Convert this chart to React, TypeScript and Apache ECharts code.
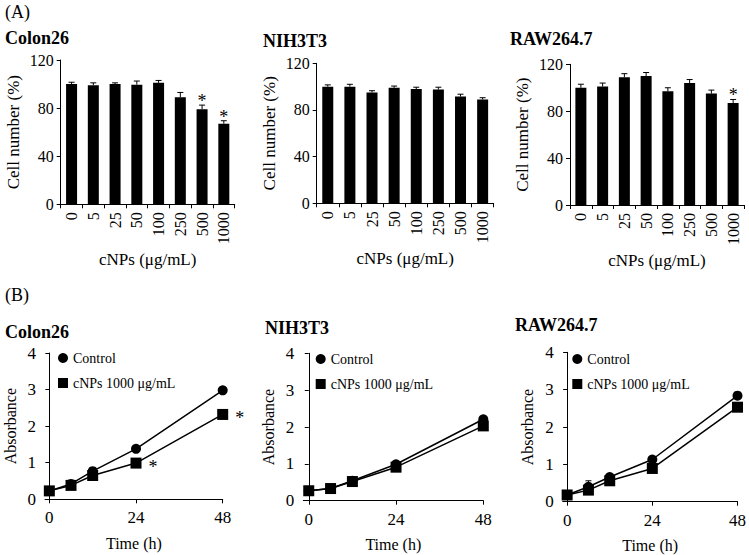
import React, { useEffect, useRef } from "react";
import * as echarts from "echarts";

const doses = ["0", "5", "25", "50", "100", "250", "500", "1000"];
const colonCell = [100, 99, 100, 99.5, 101, 89, 79, 67];
const colonCellErr = [1.5, 2, 1, 3, 2, 4, 3.5, 2.5];
const colonCellSig = [0, 0, 0, 0, 0, 0, 1, 1];
const nihCell = [100, 100, 95, 99, 98, 97.5, 91.5, 89];
const nihCellErr = [1.5, 2, 1.5, 1.5, 1.5, 2, 2, 1.5];
const nihCellSig = [0, 0, 0, 0, 0, 0, 0, 0];
const rawCell = [100, 101, 109, 110, 97, 104, 95, 87];
const rawCellErr = [3, 3, 3, 3, 3, 3, 3, 3];
const rawCellSig = [0, 0, 0, 0, 0, 0, 0, 1];

const times = [0, 6, 12, 24, 48];
const colonCtrl = [0.23, 0.42, 0.77, 1.38, 2.98];
const colonNP = [0.23, 0.38, 0.65, 0.99, 2.32];
const colonNPSig = [0, 0, 0, 1, 1];
const nihCtrl = [0.27, 0.33, 0.54, 0.99, 2.21];
const nihNP = [0.27, 0.33, 0.52, 0.91, 2.03];
const rawCtrl = [0.18, 0.4, 0.66, 1.13, 2.84];
const rawCtrlErr = [0.02, 0.16, 0.05, 0.05, 0.05];
const rawNP = [0.18, 0.31, 0.56, 0.89, 2.53];

const panelNames = ["Colon26", "NIH3T3", "RAW264.7"];
const CTRL = "Control";
const NP = "cNPs 1000 μg/mL";
const FONT = "'Liberation Serif', 'Times New Roman', serif";

export default function App() {
  const ref = useRef<HTMLDivElement>(null);
  useEffect(() => {
    document.body.style.margin = "0";
    const chart = echarts.init(ref.current!, null, { renderer: "svg" });

    const topGrids = [
      { left: 60.7, top: 60, width: 174, height: 144.3 },
      { left: 316.7, top: 63.3, width: 177, height: 140 },
      { left: 570, top: 64.3, width: 174, height: 140.7 },
    ];
    const botGrids = [
      { left: 45, top: 353, width: 177.7, height: 146.3 },
      { left: 303.3, top: 353.3, width: 180, height: 147.4 },
      { left: 562.7, top: 352.3, width: 178, height: 149.4 },
    ];
    const botMin = [-1.2, -1.5, -1.25];

    const axisLine = { lineStyle: { color: "#000", width: 1 } };
    const xAxes: any[] = [];
    const yAxes: any[] = [];
    topGrids.forEach((_, i) => {
      xAxes.push({
        type: "category",
        gridIndex: i,
        data: doses,
        axisLine,
        axisTick: { show: true, length: 4, lineStyle: { color: "#000" } },
        axisLabel: { rotate: 90, fontFamily: FONT, fontSize: 16, color: "#000", margin: 8 },
        name: "cNPs (μg/mL)",
        nameLocation: "middle",
        nameGap: 47,
        nameTextStyle: { fontFamily: FONT, fontSize: 17, color: "#000" },
      });
      yAxes.push({
        type: "value",
        gridIndex: i,
        min: 0,
        max: 120,
        interval: 40,
        splitLine: { show: false },
        axisLine: { show: true, ...axisLine },
        axisTick: { show: true, length: 4, lineStyle: { color: "#000" } },
        axisLabel: { fontFamily: FONT, fontSize: 16, color: "#000", margin: 7 },
        name: "Cell number (%)",
        nameLocation: "middle",
        nameGap: 39,
        nameTextStyle: { fontFamily: FONT, fontSize: 17, color: "#000" },
      });
    });
    botGrids.forEach((_, i) => {
      xAxes.push({
        type: "value",
        gridIndex: 3 + i,
        min: botMin[i],
        max: 48,
        splitLine: { show: false },
        axisLine,
        axisTick: { show: true, length: 4, customValues: [0, 24, 48], lineStyle: { color: "#000" } },
        axisLabel: { customValues: [0, 24, 48], fontFamily: FONT, fontSize: 17, color: "#000", margin: 10 },
        name: "Time (h)",
        nameLocation: "middle",
        nameGap: 36,
        nameTextStyle: { fontFamily: FONT, fontSize: 16, color: "#000" },
      });
      yAxes.push({
        type: "value",
        gridIndex: 3 + i,
        min: 0,
        max: 4,
        interval: 1,
        splitLine: { show: false },
        axisLine: { show: true, ...axisLine },
        axisTick: { show: true, length: 4, lineStyle: { color: "#000" } },
        axisLabel: { fontFamily: FONT, fontSize: 17, color: "#000", margin: 9 },
        name: "Absorbance",
        nameLocation: "middle",
        nameGap: 27,
        nameTextStyle: { fontFamily: FONT, fontSize: 16, color: "#000" },
      });
    });

    const cellSets = [
      [colonCell, colonCellErr, colonCellSig],
      [nihCell, nihCellErr, nihCellSig],
      [rawCell, rawCellErr, rawCellSig],
    ];
    const series: any[] = [];
    cellSets.forEach(([vals, errs, sigs], i) => {
      series.push({
        type: "bar",
        xAxisIndex: i,
        yAxisIndex: i,
        data: vals,
        barWidth: 11,
        itemStyle: { color: "#000" },
        z: 2,
      });
      series.push({
        type: "custom",
        xAxisIndex: i,
        yAxisIndex: i,
        z: 3,
        data: vals.map((v, k) => [k, v, errs[k], sigs[k]]),
        encode: { x: 0, y: 1 },
        renderItem: (_p: any, api: any) => {
          const x = api.value(0);
          const v = api.value(1);
          const e = api.value(2);
          const s = api.value(3);
          const top = api.coord([x, v + e]);
          const mid = api.coord([x, v]);
          const children: any[] = [
            { type: "line", shape: { x1: top[0], y1: top[1], x2: mid[0], y2: mid[1] }, style: { stroke: "#000", lineWidth: 1 } },
            { type: "line", shape: { x1: top[0] - 3, y1: top[1], x2: top[0] + 3, y2: top[1] }, style: { stroke: "#000", lineWidth: 1 } },
          ];
          if (s) {
            children.push({
              type: "text",
              style: { text: "*", x: top[0], y: top[1] - 4, align: "center", verticalAlign: "middle", font: `18px ${FONT}`, fill: "#000" },
            });
          }
          return { type: "group", children };
        },
      });
    });

    const lineSets: any[] = [
      [colonCtrl, null, colonNP, colonNPSig],
      [nihCtrl, null, nihNP, null],
      [rawCtrl, rawCtrlErr, rawNP, null],
    ];
    lineSets.forEach(([ctrl, ctrlErr, np, npSig], i) => {
      const ax = 3 + i;
      if (ctrlErr) {
        series.push({
          type: "custom",
          xAxisIndex: ax,
          yAxisIndex: ax,
          z: 1,
          data: times.map((t, k) => [t, ctrl[k], ctrlErr[k]]),
          encode: { x: 0, y: 1 },
          renderItem: (_p: any, api: any) => {
            const x = api.value(0);
            const v = api.value(1);
            const e = api.value(2);
            const a = api.coord([x, v + e]);
            const b = api.coord([x, v - e]);
            return {
              type: "group",
              children: [
                { type: "line", shape: { x1: a[0], y1: a[1], x2: b[0], y2: b[1] }, style: { stroke: "#000", lineWidth: 1 } },
                { type: "line", shape: { x1: a[0] - 3, y1: a[1], x2: a[0] + 3, y2: a[1] }, style: { stroke: "#000", lineWidth: 1 } },
              ],
            };
          },
        });
      }
      series.push({
        type: "line",
        name: CTRL,
        xAxisIndex: ax,
        yAxisIndex: ax,
        data: times.map((t, k) => [t, ctrl[k]]),
        symbol: "circle",
        symbolSize: 10,
        showAllSymbol: true,
        lineStyle: { color: "#000", width: 1.5 },
        itemStyle: { color: "#000" },
        z: 3,
      });
      series.push({
        type: "line",
        name: NP,
        xAxisIndex: ax,
        yAxisIndex: ax,
        data: times.map((t, k) => [t, np[k]]),
        symbol: "rect",
        symbolSize: 11,
        showAllSymbol: true,
        lineStyle: { color: "#000", width: 1.5 },
        itemStyle: { color: "#000" },
        z: 4,
        label: {
          show: !!npSig,
          position: "right",
          distance: 7,
          offset: [0, 4],
          fontFamily: FONT,
          fontSize: 18,
          color: "#000",
          formatter: (p: any) => (npSig && npSig[p.dataIndex] ? "*" : ""),
        },
      });
    });

    const legendPos = [
      { left: 58, top: 351 },
      { left: 315.7, top: 352 },
      { left: 572.3, top: 352 },
    ];
    const legends = legendPos.map((p) => ({
      ...p,
      orient: "vertical",
      padding: 0,
      itemGap: 11,
      itemWidth: 10,
      itemHeight: 10,
      selectedMode: false,
      textStyle: { fontFamily: FONT, fontSize: 14, color: "#000" },
      data: [
        { name: CTRL, icon: "circle" },
        { name: NP, icon: "rect" },
      ],
    }));

    const txt = (text: string, x: number, y: number, bold: boolean) => ({
      type: "text",
      x,
      y,
      style: {
        text,
        fill: "#000",
        font: `${bold ? "bold " : ""}18px ${FONT}`,
        textVerticalAlign: "middle",
        verticalAlign: "middle",
      },
    });

    chart.setOption({
      animation: false,
      grid: [...topGrids, ...botGrids],
      xAxis: xAxes,
      yAxis: yAxes,
      legend: legends,
      series,
      graphic: [
        txt("(A)", 5, 12, false),
        txt(panelNames[0], 5, 38, true),
        txt(panelNames[1], 263, 41, true),
        txt(panelNames[2], 510, 39, true),
        txt("(B)", 5, 295, false),
        txt(panelNames[0], 5, 332, true),
        txt(panelNames[1], 265, 327.5, true),
        txt(panelNames[2], 515, 325, true),
      ],
    });
    return () => chart.dispose();
  }, []);
  return <div ref={ref} style={{ width: 749, height: 555 }} />;
}
